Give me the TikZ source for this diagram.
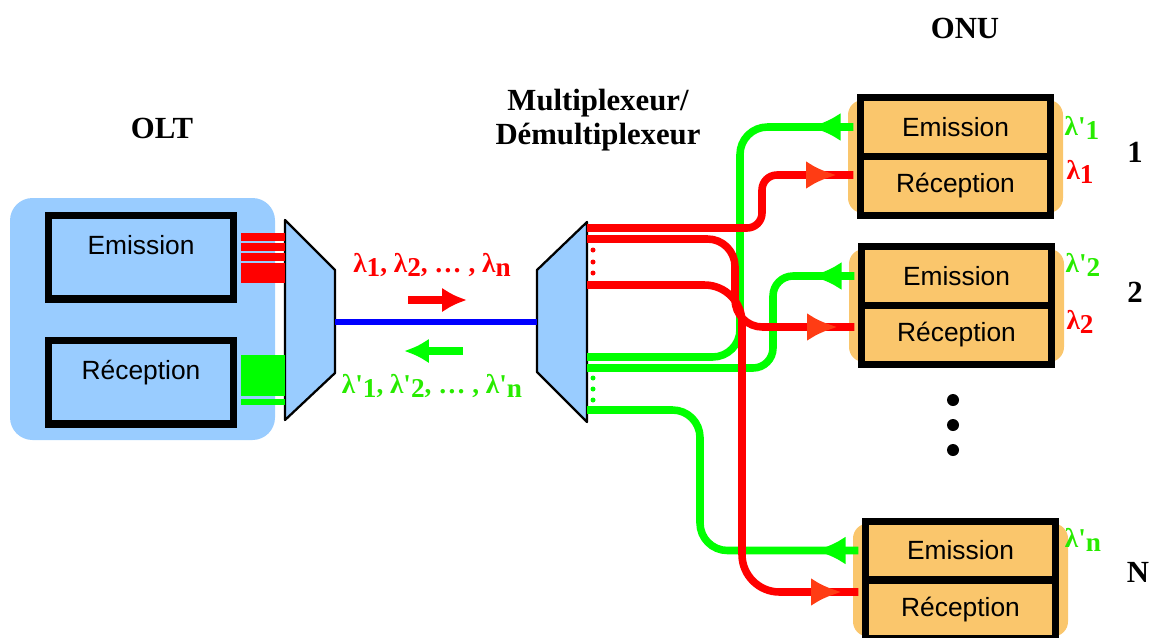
\documentclass[tikz,border=0pt]{standalone}
\usepackage{fontspec}
\setmainfont{Liberation Serif}
\newfontfamily\boxfont{Liberation Sans}
\usetikzlibrary{arrows.meta,calc,decorations.markings}

\definecolor{oltblue}{RGB}{153,204,255}
\definecolor{onuorange}{RGB}{250,198,108}
\definecolor{fibred}{RGB}{255,0,0}
\definecolor{fibgreen}{RGB}{0,255,0}
\definecolor{tipred}{RGB}{255,60,20}
\definecolor{txtgreen}{RGB}{40,235,0}

\newcommand{\lm}[1]{λ\raisebox{-0.35ex}{#1}}
\newcommand{\lmp}[1]{λ\textquotesingle\raisebox{-0.35ex}{#1}}

\begin{document}
\begin{tikzpicture}[x=0.02cm,y=-0.02cm,
  title/.style={font=\fontsize{17.5}{19.5}\selectfont\bfseries},
  lab/.style={font=\fontsize{15.5}{18}\selectfont\bfseries},
  oltbox/.style={draw,line width=4pt,fill=oltblue,minimum width=3.72cm,minimum height=1.68cm,
    inner sep=0pt,text depth=0.48cm,font=\boxfont\fontsize{15}{18}\selectfont},
  onubox/.style={draw,line width=4pt,fill=onuorange,minimum width=3.8cm,minimum height=1.18cm,
    inner sep=0pt,font=\boxfont\fontsize{15}{18}\selectfont},
  mux/.style={fill=oltblue,draw=black,line width=1.3pt,line join=round},
  fibre/.style={line width=4.3pt},
  downfibre/.style={fibre,draw=fibred,shorten >=2pt,postaction={decorate},
    decoration={markings,mark=at position -0.4cm with {\arrow[tipred]{Latex[length=0.62cm,width=0.56cm]}}}},
  upfibre/.style={fibre,draw=fibgreen,shorten <=2pt,postaction={decorate},
    decoration={markings,mark=at position 0.95cm with {\arrow{Latex[length=0.62cm,width=0.56cm]}}}}]

  \useasboundingbox (0,0) rectangle (1150,637);

  % OLT
  \fill[oltblue,rounded corners=0.45cm] (10,198) rectangle (275,440);
  \node[title] (olt) at (162,128) {OLT};
  \node[oltbox] (oltE) at (141,257) {Emission};
  \node[oltbox] (oltR) at (141,382) {Réception};

  % multiplexeurs
  \draw[mux] (285,220) -- (335,270) -- (335,373) -- (285,420) -- cycle;
  \draw[mux] (537,270) -- (587,222) -- (587,422) -- (537,372) -- cycle;
  \coordinate (muxLin) at (285,321);
  \coordinate (muxLout) at (335,322);
  \coordinate (muxRin) at (537,322);
  \coordinate (mr1) at (587,228);
  \coordinate (mr2) at (587,239);
  \coordinate (mrn) at (587,285);
  \coordinate (mg1) at (587,357);
  \coordinate (mg2) at (587,368);
  \coordinate (mgn) at (587,410);
  \node[title,align=center] (muxlab) at (598,120) {Multiplexeur/\\Démultiplexeur};

  % fibres OLT -> mux
  \foreach \y/\w in {237/4.5pt, 247/4.5pt, 257/4.5pt, 273/11.3pt}
    \draw[fibred,line width=\w,shorten <=2pt] (oltE.east |- 0,\y) -- (muxLin |- 0,\y);
  \foreach \y/\w in {375.5/23pt, 402/3.4pt}
    \draw[fibgreen,line width=\w,shorten <=2pt] (oltR.east |- 0,\y) -- (muxLin |- 0,\y);
  \draw[blue,line width=3.4pt] (muxLout) -- (muxRin);

  \draw[fibred,line width=5pt,-{Latex[length=0.5cm,width=0.5cm]}] (408,300) -- (467,300);
  \draw[fibgreen,line width=5pt,-{Latex[length=0.5cm,width=0.5cm]}] (463,351) -- (404,351);
  \node[lab,text=fibred] (lamdown) at (432,265) {\lm{1}, \lm{2}, … , \lm{n}};
  \node[lab,text=txtgreen] (lamup) at (432,386) {\lmp{1}, \lmp{2}, … , \lmp{n}};

  % ONU
  \node[title] (onu) at (965,28) {ONU};
  \foreach \i/\x/\y in {1/955.5/127, 2/956.5/276, n/960.5/550.5} {
    \fill[onuorange,rounded corners=0.3cm] (\x-107.5,\y-27) rectangle (\x+107.5,\y+86);
    \node[onubox] (e\i) at (\x,\y) {Emission};
    \node[onubox] (r\i) at (\x,\y+59) {Réception};
  }
  \node[lab,text=txtgreen] (lp1) at (1082,128) {\lmp{1}};
  \node[lab,text=fibred] (l1) at (1080,172) {\lm{1}};
  \node[title] (num1) at (1135,152) {1};
  \node[lab,text=txtgreen] (lp2) at (1083,265) {\lmp{2}};
  \node[lab,text=fibred] (l2) at (1080,322) {\lm{2}};
  \node[title] (num2) at (1135,292) {2};
  \node[lab,text=txtgreen] (lpn) at (1083,540) {\lmp{n}};
  \node[title] (numn) at (1138,572) {N};
  \foreach \y in {400,425,450}
    \fill (953,\y) circle (0.12cm);

  % points de suspension sur le demux
  \foreach \y in {250,262,273}
    \fill[fibred] (593,\y) circle (0.05cm);
  \foreach \y in {378,389,400}
    \fill[fibgreen] (593,\y) circle (0.05cm);

  % fibres mux -> ONU
  \coordinate (pr1) at ([yshift=0.22cm]r1.west);
  \coordinate (pr2) at ([yshift=0.16cm]r2.west);
  \coordinate (prn) at ([yshift=0.35cm]rn.west);
  \draw[upfibre,rounded corners=0.55cm] (e1.west) -| (740,357) -- (mg1);
  \draw[upfibre,rounded corners=0.4cm] (e2.west) -| (773,368) -- (mg2);
  \draw[upfibre,rounded corners=0.55cm] (en.west) -| (700,410) -- (mgn);
  \draw[downfibre,rounded corners=0.3cm] (mr1) -- (762,228) |- (pr1);
  \draw[downfibre,rounded corners=0.55cm] (mr2) -- (735,239) |- (pr2);
  \draw[downfibre,rounded corners=0.75cm] (mrn) -- (742,285) |- (prn);
\end{tikzpicture}
\end{document}
